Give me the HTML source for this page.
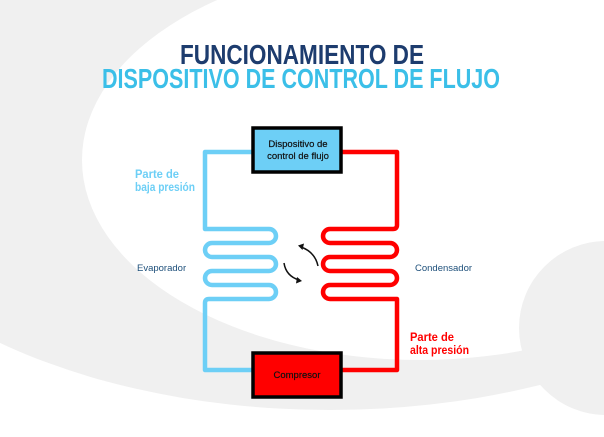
<!DOCTYPE html>
<html><head><meta charset="utf-8"><style>
html,body{margin:0;padding:0;width:604px;height:437px;overflow:hidden;background:#fff}
svg{display:block}
text{font-family:"Liberation Sans Narrow","Liberation Sans",sans-serif}
</style></head><body>
<svg width="604" height="437" viewBox="0 0 604 437" xmlns="http://www.w3.org/2000/svg">
<rect width="604" height="437" fill="#fff"/>
<ellipse cx="330" cy="130" rx="508" ry="280" fill="#f0f0f0"/>
<ellipse cx="420" cy="160" rx="338" ry="200" fill="#fff"/>
<circle cx="606" cy="328" r="87" fill="#f0f0f0"/>

<text x="302" y="64" text-anchor="middle" font-size="28" font-weight="bold" fill="#1d3c6e" textLength="244" lengthAdjust="spacingAndGlyphs">FUNCIONAMIENTO DE</text>
<text x="301" y="88" text-anchor="middle" font-size="28" font-weight="bold" fill="#3bbfe8" textLength="398" lengthAdjust="spacingAndGlyphs">DISPOSITIVO DE CONTROL DE FLUJO</text>

<g fill="none" stroke-width="4.5" stroke-linejoin="round">
<path stroke="#6dcff6" d="M252,152 H205 V229 H269 A7,7 0 0 1 269,243 H212 A7,7 0 0 0 212,257 H269 A7,7 0 0 1 269,271 H212 A7,7 0 0 0 212,285 H269 A7,7 0 0 1 269,299 H209 Q205,299 205,303 V370 H252"/>
<path stroke="#ff0000" d="M342,152 H397 V225 Q397,229 393,229 H330 A7,7 0 0 0 330,243 H390 A7,7 0 0 1 390,257 H330 A7,7 0 0 0 330,271 H390 A7,7 0 0 1 390,285 H330 A7,7 0 0 0 330,299 H397 V370 H342"/>
</g>

<rect x="253" y="128" width="88" height="44" fill="#6dcff6" stroke="#000" stroke-width="3.5"/>
<rect x="253" y="353" width="88" height="44" fill="#ff0000" stroke="#000" stroke-width="3.5"/>
<text x="298" y="147" text-anchor="middle" font-size="9.5" fill="#111" stroke="#111" stroke-width="0.2">Dispositivo de</text>
<text x="298" y="159" text-anchor="middle" font-size="9.5" fill="#111" stroke="#111" stroke-width="0.2">control de flujo</text>
<text x="297" y="378" text-anchor="middle" font-size="9.5" fill="#111" stroke="#111" stroke-width="0.2">Compresor</text>

<g fill="none" stroke="#111" stroke-width="1.5">
<path d="M318,266 Q315,252 301,247"/>
<path d="M284,263 Q286,276 299,280"/>
</g>
<path d="M298,245.5 L304,243.5 L302.5,250 Z" fill="#111"/>
<path d="M302,281 L296,283.5 L297,277 Z" fill="#111"/>

<text x="135" y="178" font-size="11.5" font-weight="bold" fill="#6dcff6" textLength="44" lengthAdjust="spacingAndGlyphs">Parte de</text>
<text x="135" y="191" font-size="11.5" font-weight="bold" fill="#6dcff6" textLength="60" lengthAdjust="spacingAndGlyphs">baja presión</text>
<text x="137" y="271" font-size="9.5" fill="#1d4f7a">Evaporador</text>
<text x="415" y="271" font-size="9.5" fill="#1d4f7a">Condensador</text>
<text x="410" y="341" font-size="11.5" font-weight="bold" fill="#ff0000" textLength="44" lengthAdjust="spacingAndGlyphs">Parte de</text>
<text x="410" y="354" font-size="11.5" font-weight="bold" fill="#ff0000" textLength="59" lengthAdjust="spacingAndGlyphs">alta presión</text>
</svg>
</body></html>
